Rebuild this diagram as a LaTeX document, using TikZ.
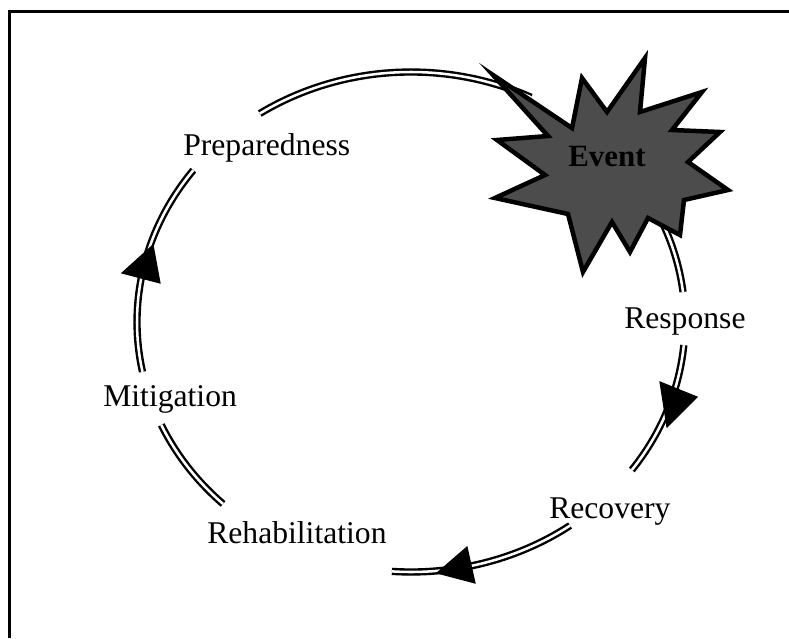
\documentclass[tikz,border=0pt]{standalone}
\usepackage{fontspec}
\setmainfont{Liberation Serif}
\begin{document}
\begin{tikzpicture}[x=0.025cm,y=-0.025cm,
  lbl/.style={anchor=base west,inner sep=0pt,font=\fontsize{22.5}{27}\selectfont},
  ring/.style={draw=black,line width=1.7pt,double=white,double distance=1.8pt},
  tri/.style={fill=black,draw=black,line width=0.8pt,line join=miter},
  frameline/.style={line width=2.2pt,black}]
\useasboundingbox (0,0) rectangle (789,638);
% frame (top and left edges)
\draw[frameline] (9.5,638) -- (9.5,11.5) -- (789,11.5);
% ring segments
\draw[ring] plot[domain=191.5:142.6,samples=40,smooth] ({411+274*cos(\x)},{322-250*sin(\x)});
\draw[ring] plot[domain=123.5:64,samples=40,smooth] ({411+274*cos(\x)},{322-250*sin(\x)});
\draw[ring] plot[domain=32:6.9,samples=30,smooth] ({411+274*cos(\x)},{322-250*sin(\x)});
\draw[ring] plot[domain=-5.3:-36.3,samples=30,smooth] ({411+274*cos(\x)},{322-250*sin(\x)});
\draw[ring] plot[domain=-54.5:-94,samples=30,smooth] ({411+274*cos(\x)},{322-250*sin(\x)});
\draw[ring] plot[domain=226.7:204.3,samples=30,smooth] ({411+274*cos(\x)},{322-250*sin(\x)});
% arrowheads
\filldraw[tri] (153,245) -- (122,273) -- (160,283) -- cycle;
\filldraw[tri] (667,427) -- (660,382) -- (697,397) -- cycle;
\filldraw[tri] (437,573) -- (467,547) -- (475,583) -- cycle;
% event burst
\filldraw[fill=black!70,draw=black,line width=3.2pt,line join=miter,miter limit=20]
  (493,75) -- (572,128) -- (582,78) -- (607,112) -- (645,58) -- (640,112)
  -- (702,92) -- (672,130) -- (720,132) -- (688,162) -- (728,190) -- (684,200)
  -- (680,235) -- (648,218) -- (630,252) -- (612,222) -- (583,272) -- (568,214)
  -- (495,198) -- (545,175) -- (497,140) -- (548,136) -- cycle;
\node[anchor=base,inner sep=0pt,font=\fontsize{22}{26}\selectfont\bfseries,text=black] (event) at (607,166) {Event};
% labels
\node[lbl] (prep) at (183,155) {Preparedness};
\node[lbl] (resp) at (624,328) {Response};
\node[lbl] (miti) at (103,406) {Mitigation};
\node[lbl] (reco) at (549,518) {Recovery};
\node[lbl] (reha) at (207,543) {Rehabilitation};
\end{tikzpicture}
\end{document}
